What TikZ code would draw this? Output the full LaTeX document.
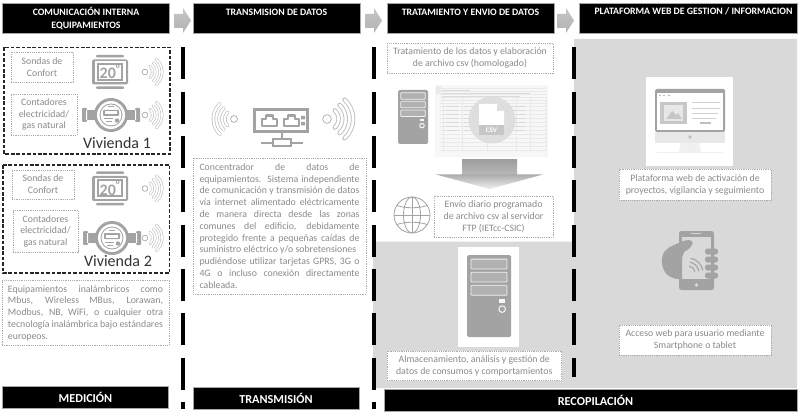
\documentclass[tikz,border=0pt]{standalone}
\usepackage{fontspec}
\setmainfont{Carlito}
\definecolor{panel}{HTML}{D9D9D9}
\definecolor{icon}{HTML}{A3A3A3}
\definecolor{txt}{HTML}{8A8A8A}
\definecolor{boxl}{HTML}{ABABAB}
\definecolor{lite}{HTML}{E9E9E9}
\tikzset{
  head/.style={fill=black,draw=gray!70,line width=.7pt},
  headtxt/.style={text=white,font=\bfseries\fontsize{9.8}{11.5}\selectfont,inner sep=0pt,align=center},
  foottxt/.style={text=white,font=\bfseries\fontsize{12.2}{14}\selectfont,inner sep=0pt},
  lbl/.style={draw=boxl,line width=.6pt,dash pattern=on 1.2pt off 1pt,fill=white,text=txt,inner sep=0pt,align=center,font=\fontsize{9.8}{11.8}\selectfont},
  viv/.style={draw=black!85,line width=1.4pt,dash pattern=on 3.6pt off 1.8pt},
  vivtxt/.style={text=black!80,inner sep=0pt,font=\fontsize{16}{18}\selectfont},
  sep/.style={line width=4pt,draw=black,dash pattern=on 32pt off 12.3pt},
  chev/.style={top color=gray!45,bottom color=gray!60,draw=none},
}
\newcommand{\jl}[2]{\makebox[#1][s]{#2}}
\newcommand{\lbox}[6]{\node[lbl,minimum width={(#4-#2)*1pt},minimum height={(#5-#3)*1pt}] (#1) at ({(#2+#4)/2},{(#3+#5)/2}) {#6};}
\newcommand{\wifi}[4]{% x y sign scale
  \begin{scope}[shift={(#1,#2)},xscale=#3*#4,yscale=#4]
    \draw[boxl,line width=.7pt,fill=white] (0,0) circle (3);
    \foreach \r in {8,13,18}{
      \draw[boxl!80!white,line width=3pt*#4,line cap=round] (-48:\r) arc (-48:48:\r);
      \draw[white,line width=1.8pt*#4,line cap=round] (-48:\r) arc (-48:48:\r);
    }
  \end{scope}}
\newcommand{\thermo}[2]{%
  \begin{scope}[shift={(#1,#2)}]
    \fill[icon,rounded corners=1pt] (-14,-17) rectangle (14,-14.5);
    \fill[icon,rounded corners=1pt] (-14,14.5) rectangle (14,17);
    \fill[icon,rounded corners=2pt] (-18,-12.5) rectangle (18,12.5);
    \fill[white] (-15.5,-10.5) rectangle (15.5,10.5);
    \fill[icon] (-13,-9) rectangle (13,9);
    \fill[white] (-11,-7) rectangle (11,7);
    \node[inner sep=0pt,text=icon,font=\bfseries\fontsize{16}{16}\selectfont] at (0,-.3) {20\textsuperscript{°}};
  \end{scope}}
\newcommand{\meter}[2]{%
  \begin{scope}[shift={(#1,#2)}]
    \fill[icon,rounded corners=1pt] (-29,-7) rectangle (-24,7);
    \fill[icon,rounded corners=1pt] (24,-7) rectangle (29,7);
    \fill[icon] (-24,-5) rectangle (-15,5);
    \fill[icon] (15,-5) rectangle (24,5);
    \fill[white] (-25,-5) rectangle (-24,5) (24,-5) rectangle (25,5);
    \fill[icon] (0,0) circle (17);
    \fill[white] (0,0) circle (14);
    \fill[icon] (0,0) circle (11.5);
    \fill[white] (0,0) circle (10.5);
    \fill[icon,rounded corners=.8pt] (-8,-5) rectangle (8,1);
    \fill[white] (-6,-3.5) rectangle (6,-.5);
    \draw[icon,line width=1pt] (-7,4) -- (2,4) (-5,7) -- (1,7) (-3,-8) -- (3,-8);
    \fill[icon] (6,5.5) circle (2.2);
  \end{scope}}
\newcommand{\server}[5]{% x0 y0 x1 y1 drawer-height
  \fill[icon,rounded corners=1.5pt] (#1,#2) rectangle (#3,#4);
  \pgfmathsetmacro{\w}{#3-#1}\pgfmathsetmacro{\h}{#4-#2}
  \foreach \k in {.05,.21,.37}{
    \draw[white!85!icon,line width=.8pt,rounded corners=.8pt,fill=icon!85!white]
      ({#1+.09*\w},{#2+\k*\h}) rectangle ({#3-.09*\w},{#2+(\k+#5)*\h});}
  \fill[white!90!icon] ({#1+.72*\w},{#2+.54*\h}) rectangle ({#1+.87*\w},{#2+.58*\h});
  \draw[white!90!icon,line width=1pt] ({#1+.8*\w},{#2+.66*\h}) circle ({.075*\w});
}
\begin{document}
\begin{tikzpicture}[x=1pt,y=1pt,yscale=-1]
\useasboundingbox (0,0) rectangle (800,414);
\fill[white] (0,0) rectangle (800,414);
% grey panel
\fill[panel] (574,39) -- (797,39) -- (797,388) -- (373,388) -- (373,241.5) -- (574,241.5) -- cycle;
% separators
\coordinate (s1a) at (183,47.5); \coordinate (s1b) at (183,409);
\coordinate (s2a) at (374,47.5); \coordinate (s2b) at (374,409);
\coordinate (s3a) at (574,47.5); \coordinate (s3b) at (574,377);
\draw[sep] (s1a) -- (s1b);
\draw[sep] (s2a) -- (s2b);
\draw[sep] (s3a) -- (s3b);
% headers
\path[head] (2.5,3) rectangle (169,33);
\path[head] (193.5,3) rectangle (360,33);
\path[head] (387,3) rectangle (554,33);
\path[head] (579,3) rectangle (797,33);
\node[headtxt] (h1) at (86,18.5) {COMUNICACIÓN INTERNA\\[1pt]EQUIPAMIENTOS};
\node[headtxt] (h2) at (276.5,12) {TRANSMISION DE DATOS};
\node[headtxt] (h3) at (470.5,12) {TRATAMIENTO Y ENVIO DE DATOS};
\node[headtxt] (h4) at (693.5,11.5) {PLATAFORMA WEB DE GESTION / INFORMACION};
% chevrons
\foreach \a in {174,365,557}{
  \shade[chev,shift={(\a,0)}] (0,14) -- (9,14) -- (9,8) -- (17,20.5) -- (9,33) -- (9,28) -- (0,28) -- cycle;
}
% footers
\path[head] (2.5,386) rectangle (168.5,408);
\path[head] (193,387) rectangle (359.5,409);
\path[head] (384,389) rectangle (797,411);
\node[foottxt] (f1) at (85.5,397.5) {MEDICIÓN};
\node[foottxt] (f2) at (276,398.5) {TRANSMISIÓN};
\node[foottxt] (f3) at (595.5,400) {RECOPILACIÓN};
% viviendas
\draw[viv] (4,47.5) rectangle (170,154);
\draw[viv] (3,165) rectangle (169.5,273);
\lbox{a1}{11}{52}{73}{82}{Sondas de\\Confort}
\lbox{a2}{11}{94}{77}{135}{Contadores\\electricidad/\\gas natural}
\lbox{b1}{12}{170}{74}{199}{Sondas de\\Confort}
\lbox{b2}{13}{210}{78}{252.5}{Contadores\\electricidad/\\gas natural}
\thermo{110}{72}
\thermo{110}{188.5}
\meter{111}{115}
\meter{112}{238}
\wifi{145}{72}{1}{.95}
\wifi{145}{115}{1}{.95}
\wifi{145}{188.5}{1}{.95}
\wifi{145}{238}{1}{.95}
\node[vivtxt] (v1) at (117,143) {Vivienda 1};
\node[vivtxt] (v2) at (118,261) {Vivienda 2};
\node[lbl,minimum width=167pt,minimum height=65pt,align=left] (eq) at (85.5,313) {%
\jl{155pt}{Equipamientos inalámbricos como}\\
\jl{155pt}{Mbus, Wireless MBus, Lorawan,}\\
\jl{155pt}{Modbus, NB, WiFi, o cualquier otra}\\
\jl{155pt}{tecnología inalámbrica bajo estándares}\\
europeos.};
% router
\wifi{234}{119}{-1}{1.15}
\wifi{327}{119}{1}{1.45}
\draw[icon,line width=3pt] (254.5,109.5) rectangle (307.5,131.5);
\foreach \p in {262,284}{
  \draw[icon,line width=2.4pt,line join=round] (\p,126) -- (\p,119) -- (\p+4,119) -- (\p+4,115.5) -- (\p+11,115.5) -- (\p+11,119) -- (\p+15,119) -- (\p+15,126) -- cycle;}
\fill[icon] (301,116) rectangle (305,119.5) (301,122) rectangle (305,125.5);
\draw[icon,line width=2.4pt] (282,133) -- (282,139) (261,143) -- (272,143) (292,143) -- (303,143);
\draw[icon,line width=2.2pt] (273,139) rectangle (291,146);
\node[lbl,minimum width=173pt,minimum height=136pt,align=left] (con) at (279.5,226) {%
\jl{160pt}{Concentrador de datos de}\\
\jl{160pt}{equipamientos. Sistema independiente}\\
\jl{160pt}{de comunicación y transmisión de datos}\\
\jl{160pt}{vía internet alimentado eléctricamente}\\
\jl{160pt}{de manera directa desde las zonas}\\
\jl{160pt}{comunes del edificio, debidamente}\\
\jl{160pt}{protegido frente a pequeñas caídas de}\\
suministro eléctrico y/o sobretensiones\\
\jl{160pt}{pudiéndose utilizar tarjetas GPRS, 3G o}\\
\jl{160pt}{4G o incluso conexión directamente}\\
cableada.};
% column 3
\lbox{c1}{387}{43.5}{553}{73}{Tratamiento de los datos y elaboración\\de archivo csv (homologado)}
\server{398}{90}{428}{144}{.12}
\fill[black!3] (435,85) rectangle (548,157);
\fill[lite] (436,86) rectangle (441,94);
\foreach \yy in {88,91,94,97,100,103,106,110,114,118,122,126,130,134,138,142,146,150}{
  \draw[lite,line width=.5pt] (440,\yy) -- (546,\yy);}
\foreach \xx in {443,462,487,516,530,546}{
  \draw[lite,line width=.5pt] (\xx,97) -- (\xx,150);}
\foreach \yy in {106,110,114,118,122,126,130}{
  \draw[gray!28,line width=.7pt] (446,\yy) -- (458,\yy) (464,\yy) -- (480,\yy) (505,\yy) -- (525,\yy);}
\draw[gray!28,line width=.8pt] (442,90) -- (470,90) (442,93) -- (530,93) (442,96) -- (520,96);
\fill[black!13] (492,120) circle (23.5);
\fill[white] (479,104) -- (497,104) -- (504,111) -- (504,125) -- (479,125) -- cycle;
\fill[black!13] (497,104) -- (497,111) -- (504,111) -- cycle;
\fill[black!22] (479,125) rectangle (504,135);
\node[inner sep=0pt,text=white,font=\bfseries\fontsize{7}{7}\selectfont] (csv) at (491.5,130) {CSV};
\shade[top color=gray!75,bottom color=gray!55] (462,160) rectangle (517,175);
\shade[top color=gray!65,bottom color=gray!12] (436,174.5) -- (543,174.5) -- (489.5,189) -- cycle;
% globe
\begin{scope}[icon,line width=.8pt]
\draw (412,215) circle (18);
\draw (412,215) ellipse (8.5 and 18);
\draw (412,197) -- (412,233) (394,215) -- (430,215);
\draw (397,205.5) .. controls (405,208.5) and (419,208.5) .. (427,205.5);
\draw (397,224.5) .. controls (405,221.5) and (419,221.5) .. (427,224.5);
\end{scope}
\lbox{c2}{434}{196}{553}{237.5}{Envío diario programado\\de archivo csv al servidor\\FTP (IETcc-CSIC)}
\fill[white] (458,247) rectangle (519,347);
\server{467}{255}{511}{337}{.12}
\lbox{c3}{387}{351}{561.5}{380.5}{Almacenamiento, análisis y gestión de\\datos de consumos y comportamientos}
% column 4
\fill[white] (646,77) rectangle (733,166);
\fill[black!36,rounded corners=1.5pt] (655,89) rectangle (725,132);
\fill[white] (657,93) rectangle (723,130);
\fill[black!9] (655,132) rectangle (725,143);
\fill[black!30] (660,95.5) circle (.8) (664,95.5) circle (.8) (669,95.5) circle (.8);
\fill[black!22] (660,102) rectangle (687,124);
\fill[black!9] (664,105) rectangle (683,121);
\fill[black!22] (666,119) -- (672,111) -- (676,115) -- (678,113) -- (682,119) -- cycle;
\draw[black!18,line width=.7pt] (692,102) -- (720,102) (692,108) -- (720,108) (692,113) -- (718,113) (692,118) -- (716,118);
\fill[black!25] (700,122) rectangle (711,124);
\fill[black!25] (690,137) circle (1.8);
\fill[black!6] (681,143) -- (699,143) -- (701,152) -- (679,152) -- cycle;
\fill[black!6] (657,152) rectangle (723,153.5);
\lbox{d1}{619}{169.5}{771}{200}{Plataforma web de activación de\\proyectos, vigilancia y seguimiento}
% phone
\fill[icon,rounded corners=2.5pt] (679,231) rectangle (714,290);
\fill[panel] (682,236.5) rectangle (711,279);
\fill[panel] (691,233) rectangle (701,234);
\fill[panel] (696.5,285) circle (1.8);
\fill[icon] (662,263) .. controls (661,252) and (667,248) .. (674,245) .. controls (681,242) and (688,238) .. (692,241) .. controls (694,244) and (691,248) .. (684,252) -- (682,258) -- (682,279) -- (679,279) .. controls (672,279) and (663,275) .. (662,263) -- cycle;
\foreach \yy in {251,259,267,275}{
  \fill[icon,rounded corners=2.5pt] (705,\yy-2.5) rectangle (718,\yy+3.5);}
\begin{scope}[shift={(688,273)}]
\foreach \r in {7,11,15}{
  \draw[icon,line width=1.1pt] (-80:\r) arc (-80:-10:\r);
}
\end{scope}
\lbox{d2}{619}{325}{771}{355}{Acceso web para usuario mediante\\Smartphone o tablet}
\end{tikzpicture}
\end{document}
